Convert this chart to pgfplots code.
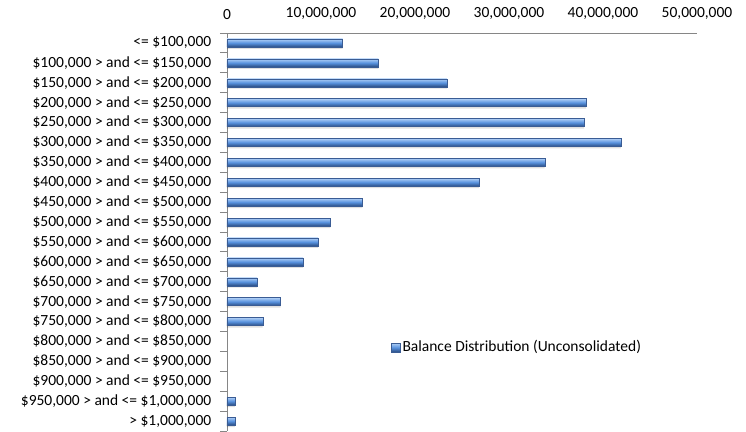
\documentclass[border=0pt]{standalone}
\usepackage{pgfplots}
\pgfplotsset{compat=1.18}
\usepackage{fontspec}
\setmainfont{Carlito}
\definecolor{axgray}{RGB}{134,134,134}
\definecolor{bartop}{RGB}{178,208,246}
\definecolor{barmid}{RGB}{88,146,222}
\definecolor{barbot}{RGB}{42,76,130}
\definecolor{bardraw}{RGB}{58,92,148}
\begin{document}
\begin{tikzpicture}
\pgfplotsset{bal/.style={xbar, bar width=8bp, bar shift=0pt, draw=bardraw, line width=0.3bp,
  top color=bartop, bottom color=barbot, middle color=barmid, forget plot},
  nobar/.style={xbar, bar width=8bp, bar shift=0pt, draw=none, fill=none, forget plot}}
\begin{axis}[
  name=ax,
  scale only axis,
  width=470bp, height=398bp,
  font=\fontsize{15.5bp}{18bp}\selectfont,
  /pgf/number format/assume math mode=true,
  xmin=0, xmax=50000000,
  ymin=0.5, ymax=20.5,
  axis x line*=top,
  axis y line*=left,
  axis line style={axgray, line width=0.8bp},
  xtick={0,10000000,20000000,30000000,40000000,50000000},
  xticklabels={0,{10,000,000},{20,000,000},{30,000,000},{40,000,000},{50,000,000}},
  x tick style={draw=none},
  xticklabel style={yshift=6bp},
  ytick={1,...,20},
  yticklabels={{> \$1,000,000},{\$950,000 > and <= \$1,000,000},{\$900,000 > and <= \$950,000},{\$850,000 > and <= \$900,000},{\$800,000 > and <= \$850,000},{\$750,000 > and <= \$800,000},{\$700,000 > and <= \$750,000},{\$650,000 > and <= \$700,000},{\$600,000 > and <= \$650,000},{\$550,000 > and <= \$600,000},{\$500,000 > and <= \$550,000},{\$450,000 > and <= \$500,000},{\$400,000 > and <= \$450,000 },{\$350,000 > and <= \$400,000},{\$300,000 > and <= \$350,000},{\$250,000 > and <= \$300,000},{\$200,000 > and <= \$250,000},{\$150,000 > and <= \$200,000},{\$100,000 > and <= \$150,000},{<= \$100,000}},
  major y tick style={draw=none},
  minor ytick={0.5,1.5,...,20.5},
  minor tick length=7bp,
  tick align=outside,
  minor y tick style={axgray, line width=0.8bp},
  yticklabel style={xshift=-8bp},
  scaled x ticks=false,
  legend style={at={(0.349,0.211)}, anchor=west, draw=none, fill=none,
    font=\fontsize{15.5bp}{18bp}\selectfont, inner sep=0pt,
    /tikz/every even column/.append style={column sep=0pt}},
  legend cell align=left,
]
% soft shadow under the bars
\addplot[xbar, bar width=8bp, bar shift=-2bp, draw=none, fill=black, fill opacity=0.12, forget plot]
coordinates {(12300000,20) (16100000,19) (23400000,18) (38200000,17) (38000000,16) (41900000,15) (33800000,14) (26800000,13) (14400000,12) (11000000,11) (9700000,10) (8100000,9) (3200000,8) (5700000,7) (3800000,6) (850000,2) (850000,1)};
\addplot[bal] coordinates {(12300000,20)};
\addplot[bal] coordinates {(16100000,19)};
\addplot[bal] coordinates {(23400000,18)};
\addplot[bal] coordinates {(38200000,17)};
\addplot[bal] coordinates {(38000000,16)};
\addplot[bal] coordinates {(41900000,15)};
\addplot[bal] coordinates {(33800000,14)};
\addplot[bal] coordinates {(26800000,13)};
\addplot[bal] coordinates {(14400000,12)};
\addplot[bal] coordinates {(11000000,11)};
\addplot[bal] coordinates {(9700000,10)};
\addplot[bal] coordinates {(8100000,9)};
\addplot[bal] coordinates {(3200000,8)};
\addplot[bal] coordinates {(5700000,7)};
\addplot[bal] coordinates {(3800000,6)};
\addplot[nobar] coordinates {(0,5)};
\addplot[nobar] coordinates {(0,4)};
\addplot[nobar] coordinates {(0,3)};
\addplot[bal] coordinates {(850000,2)};
\addplot[bal] coordinates {(850000,1)};
\addlegendimage{legend image code/.code={\draw[bardraw, line width=0.3bp, top color=bartop, bottom color=barbot, middle color=barmid] (0bp,-5bp) rectangle (9bp,4bp);}}
\addlegendentry{Balance Distribution (Unconsolidated)}
\end{axis}
\pgfresetboundingbox
\path[use as bounding box] ([shift={(-227bp,-1bp)}]ax.south west) rectangle ([shift={(519bp,431bp)}]ax.south west);
\end{tikzpicture}
\end{document}
